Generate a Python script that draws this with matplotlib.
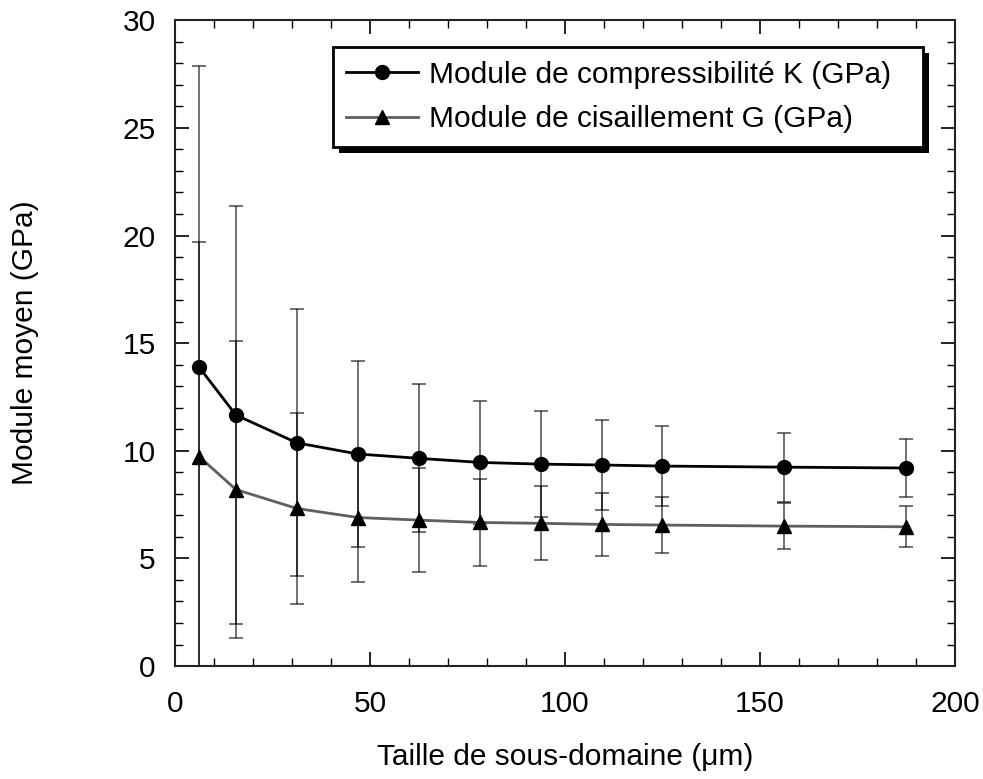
import numpy as np
import matplotlib
matplotlib.use("Agg")
import matplotlib.pyplot as plt
from matplotlib.ticker import MultipleLocator
from matplotlib.patches import Rectangle

plt.rcParams['font.family'] = ['Liberation Sans', 'DejaVu Sans']

# Données
taille = [6.25, 15.625, 31.25, 46.875, 62.5, 78.125, 93.75, 109.375, 125.0, 156.25, 187.5]
module_K = [13.87, 11.66, 10.37, 9.85, 9.65, 9.46, 9.38, 9.34, 9.29, 9.24, 9.20]
ecart_K = [14.0, 9.72, 6.21, 4.33, 3.43, 2.86, 2.45, 2.07, 1.86, 1.60, 1.36]
module_G = [9.72, 8.20, 7.32, 6.90, 6.78, 6.67, 6.63, 6.58, 6.55, 6.50, 6.47]
ecart_G = [10.0, 6.91, 4.45, 2.98, 2.41, 2.00, 1.72, 1.47, 1.30, 1.08, 0.96]

fs = 21.5

fig = plt.figure(figsize=(9.83, 7.79), dpi=100)
ax = fig.add_axes([0.178, 0.145, 0.7935, 0.829])

# Barres d'erreur
ax.errorbar(taille, module_K, yerr=ecart_K, fmt='none', ecolor='k', alpha=0.6,
            elinewidth=1.3, capsize=5, capthick=1.3, zorder=1)
ax.errorbar(taille, module_G, yerr=ecart_G, fmt='none', ecolor='k', alpha=0.6,
            elinewidth=1.3, capsize=5, capthick=1.3, zorder=1)

# Courbes
ax.plot(taille, module_K, color='black', lw=2.0, marker='o', markersize=10,
        markerfacecolor='black', markeredgecolor='black', zorder=3,
        label="Module de compressibilité K (GPa)")
ax.plot(taille, module_G, color='#5f5f5f', lw=2.0, marker='^', markersize=10,
        markerfacecolor='black', markeredgecolor='black', zorder=3,
        label="Module de cisaillement G (GPa)")

ax.set_xlim(0, 200)
ax.set_ylim(0, 30)
ax.xaxis.set_major_locator(MultipleLocator(50))
ax.xaxis.set_minor_locator(MultipleLocator(10))
ax.yaxis.set_major_locator(MultipleLocator(5))
ax.yaxis.set_minor_locator(MultipleLocator(1))

ax.tick_params(which='both', direction='in', top=True, right=True, labelsize=fs)
ax.tick_params(which='major', length=10, width=1.2)
ax.tick_params(which='minor', length=6, width=1.0)
ax.tick_params(axis='x', which='major', pad=17)
ax.tick_params(axis='y', which='major', pad=14)
for sp in ax.spines.values():
    sp.set_linewidth(1.5)
    sp.set_color('#222222')

ax.set_xlabel("Taille de sous-domaine (μm)", fontsize=fs, labelpad=18)
ax.set_ylabel("Module moyen (GPa)", fontsize=fs, labelpad=60)

leg = ax.legend(loc='upper left', bbox_to_anchor=(0.2026, 0.0, 0.7564, 0.958),
                mode='expand', borderaxespad=0,
                fontsize=fs, handlelength=2.4, handletextpad=0.35, labelspacing=0.55,
                borderpad=0.45, fancybox=False, framealpha=1)
leg.get_frame().set_edgecolor('black')
leg.get_frame().set_linewidth(2.0)
leg.set_zorder(10)

# ombre noire décalée sous la légende
fig.canvas.draw()
bb = leg.get_window_extent()
ombre = Rectangle((bb.x0 + 6, bb.y0 - 6), bb.width, bb.height, transform=None,
                  facecolor='black', edgecolor='none', zorder=9)
ax.add_artist(ombre)
ombre.set_clip_on(False)

fig.savefig("out.png", dpi=100)
